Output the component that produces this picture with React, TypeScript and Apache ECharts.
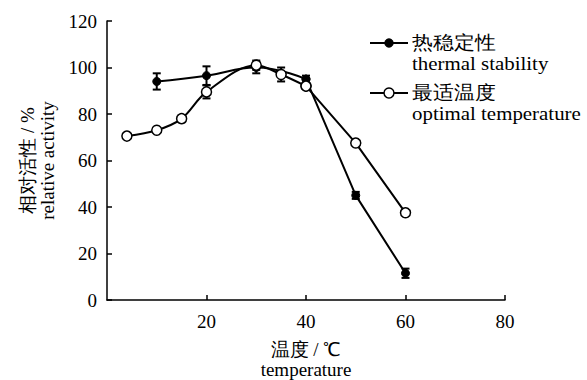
import React, { useEffect, useRef } from "react";
import * as echarts from "echarts";

const xTicks = [0, 20, 40, 60, 80];
const thermalX = [10, 20, 30, 40, 50, 60];
const thermalY = [94, 96.5, 100, 95, 45, 11.5];
const thermalErr = [3.5, 4, 2.5, 1.5, 1.5, 2];
const optimalX = [4, 10, 15, 20, 30, 35, 40, 50, 60];
const optimalY = [70.5, 73, 78, 89.5, 101, 97, 92, 67.5, 37.5];
const optimalErr = [0, 0, 1.5, 2.8, 2, 3, 1, 0, 0];
const legendCn = ["热稳定性", "最适温度"];
const legendEn = ["thermal stability", "optimal temperature"];
// curves are smooth up to this temperature, straight after it
const smoothUntil = 40;

const FONT = "Liberation Serif";

export default function App() {
  const ref = useRef<HTMLDivElement>(null);
  useEffect(() => {
    const chart = echarts.init(ref.current!, null, { renderer: "svg" });
    const errData = (xs: number[], ys: number[], es: number[]) =>
      xs.map((x, i) => [x, ys[i] - es[i], ys[i] + es[i]]).filter((_, i) => es[i] > 0);
    const errSeries = (data: number[][], z: number) => ({
      type: "custom",
      z,
      data,
      renderItem: (params: any, api: any) => {
        const top = api.coord([api.value(0), api.value(2)]);
        const bot = api.coord([api.value(0), api.value(1)]);
        const w = 4;
        const st = { stroke: "#000", lineWidth: 2 };
        return {
          type: "group",
          children: [
            { type: "line", shape: { x1: top[0], y1: top[1], x2: bot[0], y2: bot[1] }, style: st },
            { type: "line", shape: { x1: top[0] - w, y1: top[1], x2: top[0] + w, y2: top[1] }, style: st },
            { type: "line", shape: { x1: bot[0] - w, y1: bot[1], x2: bot[0] + w, y2: bot[1] }, style: st },
          ],
        };
      },
    });
    const pairs = (xs: number[], ys: number[]) => xs.map((x, i) => [x, ys[i]]);
    const head = (xs: number[], ys: number[]) => pairs(xs, ys).filter((p) => p[0] <= smoothUntil);
    const tail = (xs: number[], ys: number[]) => pairs(xs, ys).filter((p) => p[0] >= smoothUntil);

    const legendGraphics: any[] = [];
    [0, 1].forEach((i) => {
      const y = 43 + i * 50;
      legendGraphics.push({
        type: "line",
        shape: { x1: 370, y1: y, x2: 408, y2: y },
        style: { stroke: "#000", lineWidth: 2 },
      });
      legendGraphics.push({
        type: "circle",
        shape: { cx: 389, cy: y, r: i === 0 ? 4 : 5 },
        style: { fill: i === 0 ? "#000" : "#fff", stroke: "#000", lineWidth: 1.5 },
      });
      legendGraphics.push({
        type: "text",
        x: 412,
        y: y - 1,
        scaleX: 1.1,
        style: { text: legendCn[i], fontFamily: FONT, fontSize: 19, fill: "#000", verticalAlign: "middle" },
      });
      legendGraphics.push({
        type: "text",
        x: 412,
        y: y + 20,
        scaleX: 1.1,
        style: { text: legendEn[i], fontFamily: FONT, fontSize: 19, fill: "#000", verticalAlign: "middle" },
      });
    });
    const axisText = { fontFamily: FONT, fontSize: 19, color: "#000" };
    const thermalStyle = {
      type: "line",
      symbol: "circle",
      symbolSize: 8,
      z: 2,
      lineStyle: { color: "#000", width: 2 },
      itemStyle: { color: "#000", borderColor: "#000" },
    };
    const optimalStyle = {
      type: "line",
      symbol: "circle",
      symbolSize: 10,
      showAllSymbol: true,
      z: 3,
      lineStyle: { color: "#000", width: 2 },
      itemStyle: { color: "#fff", borderColor: "#000", borderWidth: 1.5 },
    };
    chart.setOption({
      animation: false,
      textStyle: { fontFamily: FONT },
      grid: { left: 107, right: 82, top: 21, bottom: 80, outerBoundsMode: "none", containLabel: false },
      xAxis: {
        type: "value",
        min: xTicks[0],
        max: xTicks[xTicks.length - 1],
        interval: 20,
        name: "温度 / ℃\ntemperature",
        nameLocation: "middle",
        nameGap: 39,
        nameTextStyle: { ...axisText, lineHeight: 20 },
        axisLine: { lineStyle: { color: "#000", width: 1.5 } },
        axisTick: { inside: true, length: 5, lineStyle: { color: "#000", width: 1.5 } },
        axisLabel: { ...axisText, showMinLabel: false, margin: 12 },
        splitLine: { show: false },
      },
      yAxis: {
        type: "value",
        min: 0,
        max: 120,
        interval: 20,
        name: "相对活性 / %\nrelative activity",
        nameLocation: "middle",
        nameRotate: 90,
        nameGap: 50,
        nameTextStyle: { ...axisText, lineHeight: 20 },
        axisLine: { show: true, lineStyle: { color: "#000", width: 1.5 } },
        axisTick: { show: true, inside: true, length: 5, lineStyle: { color: "#000", width: 1.5 } },
        axisLabel: { ...axisText, margin: 10 },
        splitLine: { show: false },
      },
      graphic: legendGraphics,
      series: [
        errSeries(errData(thermalX, thermalY, thermalErr), 1),
        errSeries(errData(optimalX, optimalY, optimalErr), 1),
        { ...thermalStyle, name: "thermal stability", data: head(thermalX, thermalY), smooth: 0.45 },
        { ...thermalStyle, name: "thermal stability tail", data: tail(thermalX, thermalY), smooth: false },
        { ...optimalStyle, name: "optimal temperature", data: head(optimalX, optimalY), smooth: 0.35 },
        { ...optimalStyle, name: "optimal temperature tail", data: tail(optimalX, optimalY), smooth: false },
      ],
    });
    return () => chart.dispose();
  }, []);
  return <div ref={ref} style={{ position: "absolute", left: 0, top: 0, width: 587, height: 380 }} />;
}
